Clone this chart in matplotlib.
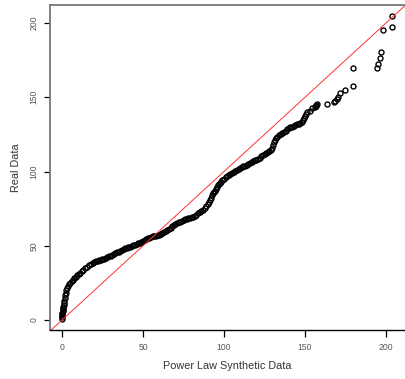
import matplotlib
matplotlib.use("Agg")
import matplotlib.pyplot as plt

# Sorted quantiles: synthetic power-law sample (x) vs observed data (y)
synthetic = [
    0, 0, 0, 0.2, 0.3, 0.4, 0.5, 0.6, 0.8, 1.0, 1.2,
    1.5, 1.8, 2.0, 2.3, 2.7, 3.2, 3.8, 4.5, 5.2, 6.0, 6.8, 7.6, 8.5, 9.4,
    10.3, 11.2, 12.2, 13.2, 14.3, 15.5, 16.7, 18.0, 19.0,
    20, 21, 22, 23, 24, 25, 26, 27, 28, 29, 30, 31, 32, 33, 34, 35, 36, 37,
    38, 39, 40, 41, 42, 43, 44, 45, 46, 47, 48, 49, 50, 51, 52, 53, 54, 55,
    56, 57, 58, 59, 60, 61, 62, 63, 64, 65, 66, 67, 68, 69, 70, 71, 72, 73,
    74, 75, 76, 77, 78, 79, 80, 81, 82, 83, 84, 85, 86, 87, 88, 89, 90, 91,
    91.5, 92, 92.5, 93, 93.7, 94.4, 95, 95.7, 96.4, 97, 97.6, 98.3, 99,
    100, 101, 102, 103, 104, 105, 106, 107, 108, 109, 110, 111, 112, 113,
    114, 115, 116, 117, 118, 119, 120, 121, 122, 123, 124, 125, 126, 127,
    128, 129, 129.6, 130.1, 130.6, 131.2, 132, 133, 134, 135, 136, 137,
    138, 139, 140, 141, 142, 143, 144, 145, 146, 147, 148, 149, 149.6, 150,
    150.8, 151.5, 153, 154.5, 156.3, 156.6, 156.8, 157.2,
    163.4, 168.0, 168.8, 169.8, 170.6, 171.6, 174.7, 179.4, 179.4,
    194.2, 195.3, 196.3, 196.9, 198.0, 203.5, 203.5,
]
real = [
    1, 2, 3, 4, 5, 6, 7, 8, 9, 10, 11.5,
    13, 15, 17, 18.5, 20, 21.5, 23, 24, 25, 26, 27, 28, 29, 30,
    31, 32, 33, 34, 35, 36, 37, 38, 38.5,
    39, 39.5, 40, 40.3, 40.7, 41, 41.4, 41.8, 42.3, 42.8, 43.4, 44, 44.5,
    45, 45.6, 46.1, 46.6, 47.2, 47.8, 48.3, 48.7, 49.1, 49.5, 49.8, 50.2,
    50.6, 51, 51.6, 52.2, 52.8, 53.4, 54, 54.5, 55, 55.5, 56, 56.3, 56.6,
    56.9, 57, 57.2, 57.8, 58.5, 59.3, 60.2, 60.8, 61.3, 62, 63, 63.8, 64.5,
    65.2, 65.8, 66.3, 66.8, 67.3, 67.8, 68.2, 68.6, 69, 69.3, 69.6, 70.2,
    71, 71.8, 72.5, 73.2, 74, 75.2, 76.5, 78, 79.5,
    81, 82.5, 84, 85.2, 86.3, 87.2, 88.3, 89.5, 90.6, 91.5, 92.3, 93.2, 94,
    95.2, 96.2, 97, 97.8, 98.6, 99.3, 100, 100.6, 101.2, 101.8, 102.4, 103,
    103.5, 104, 104.5, 105, 105.6, 106.3, 107, 107.6, 108, 108.7, 109.4,
    110.2, 110.9, 111.6, 112.3, 113, 113.6, 114.3, 116, 118, 119.8, 121.2,
    122.4, 123.4, 124.3, 125.2, 126, 126.8, 127.6, 128.4, 129, 129.7, 130.3,
    130.9, 131.4, 131.9, 132.3, 132.7, 133.2, 134.5, 136, 137.5,
    139, 140.3, 141, 142.5, 143.3, 144.2, 145, 145.3,
    145.5, 146.5, 147.8, 149, 150.4, 152.7, 154.7, 157.6, 169.4,
    169.4, 172.4, 176.2, 180.2, 195.3, 197.5, 204.4,
]

x_ticks = [0, 50, 100, 150, 200]
y_ticks = [0, 50, 100, 150, 200]

fig = plt.figure(figsize=(4.05, 3.79), dpi=100)
ax = fig.add_axes([50 / 405, 49 / 379, 355 / 405, 325 / 379])

ax.plot(synthetic, real, linestyle="none", marker="o", markersize=3.6,
        markerfacecolor="none", markeredgecolor="black", markeredgewidth=1.0)
ax.axline((0, 0), slope=1, color="#ff3030", linewidth=0.7)

ax.set_xlim(-7.4, 211.7)
ax.set_ylim(-6.7, 212.1)
ax.set_xticks(x_ticks)
ax.set_yticks(y_ticks)

tick_font = dict(family="Liberation Sans", size=6.2, color="#555555")
ax.set_xticklabels([str(t) for t in x_ticks], **tick_font)
ax.set_yticklabels([str(t) for t in y_ticks], rotation=90, va="center", **tick_font)
ax.tick_params(axis="x", direction="out", length=5, width=0.9, color="black", pad=4)
ax.tick_params(axis="y", direction="out", length=4.5, width=0.9, color="black", pad=4)

ax.spines["right"].set_visible(False)
ax.spines["top"].set_color("#777777")
ax.spines["left"].set_color("#777777")
ax.spines["top"].set_linewidth(1.3)
ax.spines["left"].set_linewidth(1.3)
ax.spines["bottom"].set_color("black")
ax.spines["bottom"].set_linewidth(1.0)

label_font = dict(family="Liberation Sans", size=7.8, color="#333333")
ax.set_xlabel("Power Law Synthetic Data", labelpad=7, **label_font)
ax.set_ylabel("Real Data", labelpad=6, **label_font)

fig.savefig("out.png", dpi=100, facecolor="white")
